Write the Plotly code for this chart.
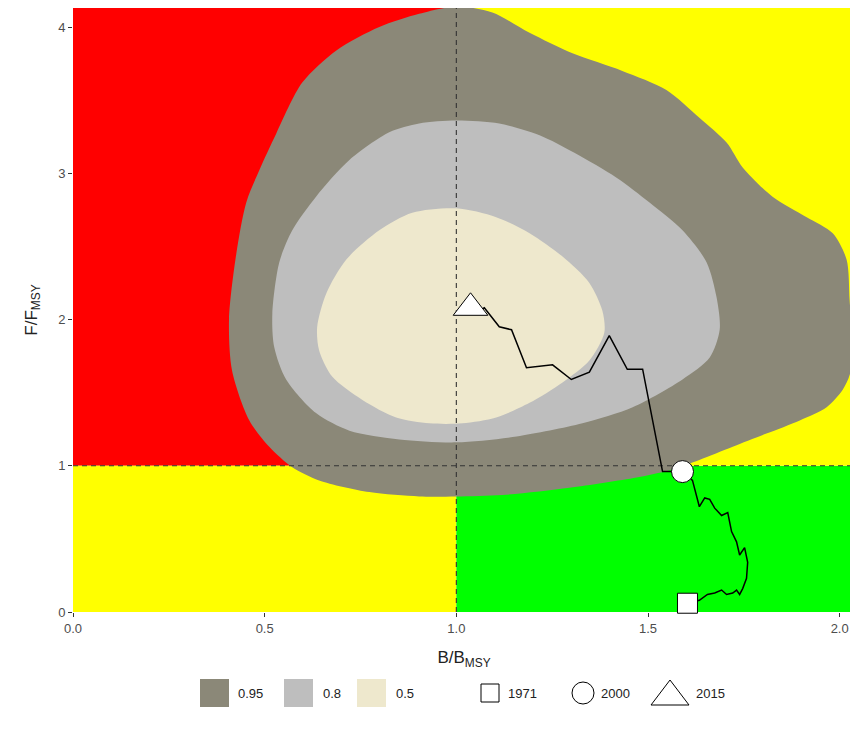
import plotly.graph_objects as go

# ---------------- data ----------------
x_max, y_max = 2.04, 4.13
ref_b, ref_f = 1.0, 1.0

# 95% contour
c95_x = [1.000, 1.094, 1.191, 1.303, 1.433, 1.548, 1.634, 1.705, 1.747, 1.825, 1.914, 1.982,
         2.018, 2.026, 2.034, 2.026, 2.008, 1.966, 1.896, 1.809, 1.721, 1.634, 1.556, 1.470,
         1.295, 1.120, 1.000, 0.903, 0.773, 0.642, 0.572, 0.512, 0.460, 0.415, 0.407, 0.426,
         0.452, 0.486, 0.530, 0.598, 0.687, 0.799, 0.903]
c95_y = [4.14, 4.10, 3.96, 3.82, 3.70, 3.57, 3.38, 3.21, 3.04, 2.84, 2.70, 2.59,
         2.41, 2.13, 1.79, 1.62, 1.52, 1.40, 1.31, 1.22, 1.13, 1.04, 0.97, 0.92,
         0.85, 0.80, 0.79, 0.79, 0.82, 0.90, 0.99, 1.13, 1.31, 1.65, 2.00, 2.45,
         2.80, 3.02, 3.27, 3.62, 3.84, 4.00, 4.09]

# 80% contour
c80_x = [1.000, 1.112, 1.217, 1.308, 1.418, 1.504, 1.590, 1.653, 1.679, 1.687, 1.661, 1.590,
         1.460, 1.329, 1.157, 1.000, 0.851, 0.721, 0.634, 0.556, 0.525, 0.520, 0.538, 0.572,
         0.634, 0.721, 0.825, 0.903]
c80_y = [3.36, 3.34, 3.26, 3.14, 2.97, 2.80, 2.61, 2.39, 2.15, 1.93, 1.74, 1.59,
         1.40, 1.29, 1.20, 1.16, 1.18, 1.24, 1.36, 1.59, 1.81, 2.04, 2.39, 2.61,
         2.84, 3.09, 3.28, 3.34]

# 50% contour
c50_x = [1.000, 1.104, 1.191, 1.277, 1.347, 1.381, 1.386, 1.347, 1.277, 1.191, 1.104, 1.016,
         0.930, 0.843, 0.755, 0.676, 0.642, 0.637, 0.661, 0.713, 0.799, 0.885]
c50_y = [2.76, 2.70, 2.59, 2.43, 2.25, 2.06, 1.91, 1.72, 1.57, 1.43, 1.33, 1.29,
         1.29, 1.33, 1.45, 1.61, 1.79, 1.95, 2.18, 2.41, 2.61, 2.73]

# trajectory 1971 -> 2015
traj_b = [1.603, 1.634, 1.655, 1.674, 1.692, 1.705, 1.721, 1.731, 1.739, 1.747, 1.757, 1.760,
          1.752, 1.739, 1.731, 1.718, 1.708, 1.692, 1.674, 1.661, 1.648, 1.634, 1.616, 1.590,
          1.538, 1.486, 1.446, 1.399, 1.347, 1.300, 1.251, 1.183, 1.144, 1.112, 1.073, 1.060,
          1.037]
traj_f = [0.06, 0.08, 0.12, 0.13, 0.15, 0.12, 0.13, 0.15, 0.12, 0.16, 0.23, 0.34,
          0.44, 0.39, 0.48, 0.55, 0.68, 0.66, 0.71, 0.77, 0.78, 0.72, 0.90, 0.96,
          0.96, 1.66, 1.66, 1.89, 1.64, 1.59, 1.69, 1.67, 1.93, 1.95, 2.08, 2.06,
          2.08]

years = ["1971", "2000", "2015"]
year_b = [1.603, 1.590, 1.037]
year_f = [0.06, 0.96, 2.08]

levels = ["0.95", "0.8", "0.5"]

# ---------------- style ----------------
OFF = 8                      # default page (body) margin
W, H = 858 - OFF, 733 - OFF  # figure size inside the window
ML, MR, MT, MB = 73 - OFF, 3, 0, 121
RED, YEL, GRN = "#FF0000", "#FFFF00", "#00FF00"
cont_colors = {"0.95": "#8B8878", "0.8": "#BEBEBE", "0.5": "#EEE8CD"}
symbols = ["square", "circle", "triangle-up"]
sizes = [20, 22, 30]
FONT = "Liberation Sans, Arial, sans-serif"


def px(xp):
    """window pixel x -> paper fraction"""
    return (xp - OFF - ML) / (W - ML - MR)


def py(yp):
    """window pixel y -> paper fraction"""
    return (H - MB - (yp - OFF)) / (H - MT - MB)


fig = go.Figure()

# quadrant backgrounds
quads = [
    (0, ref_b, ref_f, y_max, RED),
    (0, ref_b, 0, ref_f, YEL),
    (ref_b, x_max, 0, ref_f, GRN),
    (ref_b, x_max, ref_f, y_max, YEL),
]
for x0, x1, y0, y1, col in quads:
    fig.add_shape(type="rect", xref="x", yref="y", x0=x0, x1=x1, y0=y0, y1=y1,
                  fillcolor=col, line=dict(width=0), layer="below")

# contours
for cx, cy, lev in [(c95_x, c95_y, "0.95"), (c80_x, c80_y, "0.8"), (c50_x, c50_y, "0.5")]:
    fig.add_trace(go.Scatter(x=cx + [cx[0]], y=cy + [cy[0]], mode="lines", fill="toself",
                             fillcolor=cont_colors[lev],
                             line=dict(width=0, shape="spline", smoothing=0.8),
                             hoverinfo="skip", showlegend=False, name=lev))

# reference dashed lines
fig.add_trace(go.Scatter(x=[0, x_max], y=[ref_f, ref_f], mode="lines",
                         line=dict(color="#333333", width=1.1, dash="5px,4px"),
                         showlegend=False, hoverinfo="skip"))
fig.add_trace(go.Scatter(x=[ref_b, ref_b], y=[0, y_max], mode="lines",
                         line=dict(color="#333333", width=1.1, dash="5px,4px"),
                         showlegend=False, hoverinfo="skip"))

# trajectory
fig.add_trace(go.Scatter(x=traj_b, y=traj_f, mode="lines",
                         line=dict(color="#000000", width=1.5),
                         showlegend=False, hoverinfo="skip"))

# year markers
for yr, b, f, sym, sz in zip(years, year_b, year_f, symbols, sizes):
    fig.add_trace(go.Scatter(x=[b], y=[f], mode="markers", name=yr, cliponaxis=False,
                             marker=dict(symbol=sym, size=sz, color="white",
                                         line=dict(color="black", width=1)),
                             showlegend=False))

# ---------------- legend (drawn below the plot) ----------------
leg_y = 693
legend_font = dict(family=FONT, size=13, color="#222222")
fill_keys = [(200, 236), (284, 321), (357, 394)]  # key left px, text left px
for lev, (kx, tx) in zip(levels, fill_keys):
    fig.add_shape(type="rect", xref="paper", yref="paper",
                  x0=px(kx), x1=px(kx + 29), y0=py(leg_y + 14), y1=py(leg_y - 14),
                  fillcolor=cont_colors[lev], line=dict(width=0))
    fig.add_annotation(x=px(tx), y=py(leg_y), xref="paper", yref="paper", text=lev,
                       showarrow=False, xanchor="left", yanchor="middle", font=legend_font)

# 1971 square
fig.add_shape(type="rect", xref="paper", yref="paper",
              x0=px(481), x1=px(499), y0=py(leg_y + 9), y1=py(leg_y - 9),
              fillcolor="white", line=dict(color="black", width=1))
# 2000 circle
fig.add_shape(type="circle", xref="paper", yref="paper",
              x0=px(572), x1=px(594), y0=py(leg_y + 11), y1=py(leg_y - 11),
              fillcolor="white", line=dict(color="black", width=1))
# 2015 triangle
fig.add_shape(type="path", xref="paper", yref="paper",
              path=f"M {px(651)} {py(leg_y + 12)} L {px(689)} {py(leg_y + 12)} L {px(670)} {py(leg_y - 13)} Z",
              fillcolor="white", line=dict(color="black", width=1))
for yr, tx in zip(years, [506, 599, 694]):
    fig.add_annotation(x=px(tx), y=py(leg_y), xref="paper", yref="paper", text=yr,
                       showarrow=False, xanchor="left", yanchor="middle", font=legend_font)

axis_common = dict(showgrid=False, zeroline=False, showline=False, ticks="outside",
                   ticklen=4, tickcolor="#333333", tickwidth=1, automargin=False,
                   tickfont=dict(family=FONT, size=13, color="#4D4D4D"))

fig.update_layout(
    width=W, height=H,
    margin=dict(l=ML, r=MR, t=MT, b=MB),
    paper_bgcolor="white", plot_bgcolor="white",
    font=dict(family=FONT),
    showlegend=False,
    xaxis=dict(range=[0, x_max], tickvals=[0, 0.5, 1.0, 1.5, 2.0],
               ticktext=["0.0", "0.5", "1.0", "1.5", "2.0"],
               title=dict(text="B/B<sub>MSY</sub>", font=dict(family=FONT, size=17, color="#222222"),
                          standoff=16),
               **axis_common),
    yaxis=dict(range=[0, y_max], tickvals=[0, 1, 2, 3, 4],
               title=dict(text="F/F<sub>MSY</sub>", font=dict(family=FONT, size=17, color="#222222"),
                          standoff=16),
               **axis_common),
)

fig.write_html("out.html")
